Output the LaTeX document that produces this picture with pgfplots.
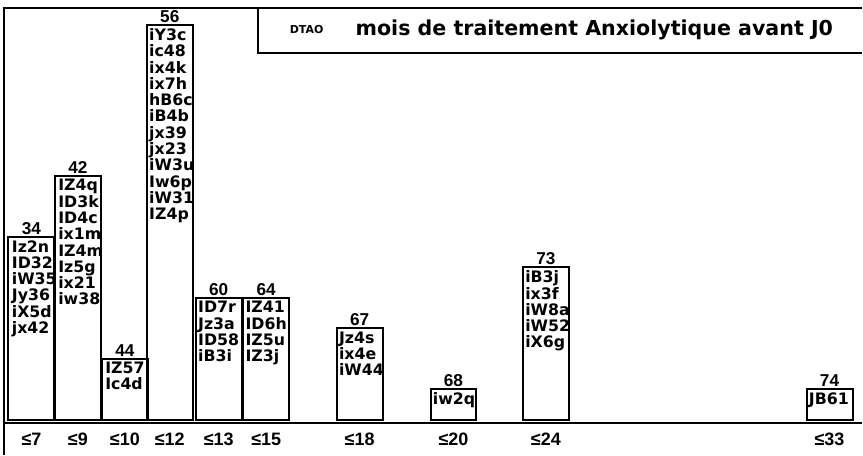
\documentclass[border=0pt]{standalone}
\usepackage{pgfplots}
\pgfplotsset{compat=1.18}
\usepackage{fontspec}
\setmainfont{DejaVu Sans}
\newfontfamily\lib{Liberation Sans}

% 1 px of the reference = 0.5pt, 1 count = 30.5 px
\newcommand\ids[1]{\fontsize{7.9}{8.15}\selectfont\bfseries #1}

\begin{document}
\begin{tikzpicture}
\begin{axis}[
    x=0.5pt, y=15.25pt,
    xmin=0, xmax=863, ymin=-1.148, ymax=13.77,
    clip=false,
    axis line style={draw=none},
    major tick length=0,
    ytick=\empty,
    xtick={31.5,78,125,170,219,266.5,360,454,546.5,830.5},
    xticklabels={≤7,≤9,≤10,≤12,≤13,≤15,≤18,≤20,≤24,≤33},
    xticklabel style={anchor=base, yshift=4.5pt, font=\lib\bfseries\fontsize{9}{10}\selectfont},
]
\path (axis cs:0,-1.148) rectangle (axis cs:863,13.77);

% frame, baseline and title box
\draw[line width=1pt] (axis cs:863,13.51) -- (axis cs:4.5,13.51) -- (axis cs:4.5,-1.148);
\draw[line width=1pt] (axis cs:4.5,-0.1) -- (axis cs:863,-0.1);
\draw[line width=1pt] (axis cs:863,12.03) -- (axis cs:258,12.03) -- (axis cs:258,13.51);
\node[font=\bfseries\fontsize{5.5}{6}\selectfont] at (axis cs:307,12.8) {DTAO};
\node[font=\bfseries\fontsize{10.3}{12}\selectfont] at (axis cs:595,12.8) {mois de traitement Anxiolytique avant J0};

% bars: number of patients per class
\addplot[ybar, bar width=23pt, fill=white, draw=black, line width=1pt]
  coordinates {(31.5,6) (78,8) (125,2) (170,12.95) (219,4) (266.5,4)
               (360,3) (454,1) (546.5,5) (830.5,1)};

% cumulative totals
\begin{scope}[every node/.style={anchor=south, inner sep=1pt, font=\lib\bfseries\fontsize{8.6}{9}\selectfont}]
\node at (axis cs:31.5,6) {34};
\node at (axis cs:78,8) {42};
\node at (axis cs:125,2) {44};
\node at (axis cs:170,12.95) {56};
\node at (axis cs:219,4) {60};
\node at (axis cs:266.5,4) {64};
\node at (axis cs:360,3) {67};
\node at (axis cs:454,1) {68};
\node at (axis cs:546.5,5) {73};
\node at (axis cs:830.5,1) {74};
\end{scope}

% patient codes
\begin{scope}[every node/.style={anchor=north west, inner sep=0pt, align=left, yshift=-1.5pt}]
\node[font=\ids{}] at (axis cs:11.5,6) {Iz2n\\ID32\\iW35\\Jy36\\iX5d\\jx42};
\node[font=\ids{}] at (axis cs:58,8) {IZ4q\\ID3k\\ID4c\\ix1m\\IZ4m\\Iz5g\\ix21\\iw38};
\node[font=\ids{}] at (axis cs:105,2) {IZ57\\Ic4d};
\node[font=\ids{}] at (axis cs:149,12.95) {iY3c\\ic48\\ix4k\\ix7h\\hB6c\\iB4b\\jx39\\jx23\\iW3u\\Iw6p\\iW31\\IZ4p};
\node[font=\ids{}] at (axis cs:198,4) {ID7r\\Jz3a\\ID58\\iB3i};
\node[font=\ids{}] at (axis cs:245.5,4) {IZ41\\ID6h\\IZ5u\\IZ3j};
\node[font=\ids{}] at (axis cs:339,3) {Jz4s\\ix4e\\iW44};
\node[font=\ids{}] at (axis cs:433,1) {iw2q};
\node[font=\ids{}] at (axis cs:525.5,5) {iB3j\\ix3f\\iW8a\\iW52\\iX6g};
\node[font=\ids{}] at (axis cs:809.5,1) {JB61};
\end{scope}
\end{axis}
\end{tikzpicture}
\end{document}
